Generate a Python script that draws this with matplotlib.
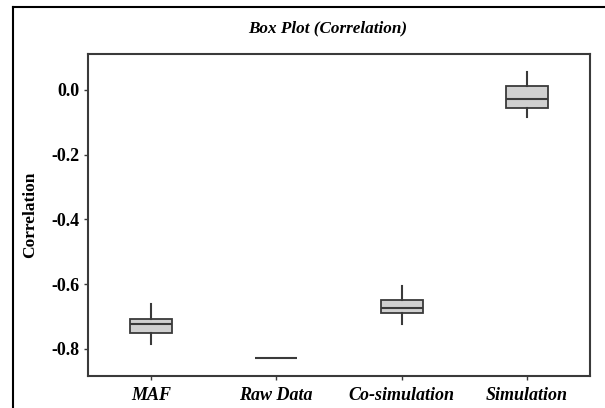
import matplotlib
matplotlib.use("Agg")
import matplotlib.pyplot as plt
from matplotlib.lines import Line2D

plt.rcParams['font.family'] = ['Liberation Serif', 'DejaVu Serif']

categories = ["MAF", "Raw Data", "Co-simulation", "Simulation"]
whisker_low = [-0.785, -0.829, -0.724, -0.083]
quartile_1 = [-0.751, -0.829, -0.690, -0.056]
medians = [-0.722, -0.829, -0.674, -0.028]
quartile_3 = [-0.708, -0.829, -0.649, 0.012]
whisker_high = [-0.662, -0.829, -0.606, 0.056]
y_ticks = [0.0, -0.2, -0.4, -0.6, -0.8]

fig = plt.figure(figsize=(6.05, 4.08), dpi=100)
ax = fig.add_axes([0.1455, 0.0784, 0.8295, 0.7892])

stats = []
for name, lo, q1, med, q3, hi in zip(categories, whisker_low, quartile_1,
                                     medians, quartile_3, whisker_high):
    stats.append(dict(label=name, whislo=lo, q1=q1, med=med, q3=q3,
                      whishi=hi, fliers=[]))

edge = "#3a3a3a"
ax.bxp(stats, positions=range(1, len(categories) + 1), widths=0.335,
       patch_artist=True, showcaps=False,
       boxprops=dict(facecolor="#d0d0d0", edgecolor=edge, linewidth=1.3),
       medianprops=dict(color=edge, linewidth=1.5),
       whiskerprops=dict(color=edge, linewidth=1.5))

ax.set_xlim(0.5, 4.5)
ax.set_ylim(-0.884, 0.111)
ax.set_yticks(y_ticks)
ax.set_yticklabels([f"{v:.1f}" for v in y_ticks], fontsize=13, fontweight="bold")
ax.set_xticks(range(1, len(categories) + 1))
ax.set_xticklabels(categories, fontsize=13, fontweight="bold", fontstyle="italic")
ax.tick_params(axis="both", direction="out", length=3, width=1, color=edge)
ax.tick_params(axis="x", pad=5)
ax.tick_params(axis="y", pad=3)
for s in ax.spines.values():
    s.set_color(edge)
    s.set_linewidth(1.5)

ax.set_ylabel("Correlation", fontsize=12.5, fontweight="bold", labelpad=10)
fig.text(0.542, 0.93, "Box Plot (Correlation)", ha="center", va="center",
         fontsize=12.3, fontweight="bold", fontstyle="italic")

# outer frame (left and top edges)
x0 = 13 / 605
y0 = 1 - 7 / 408
fig.add_artist(Line2D([x0, x0], [0, y0], transform=fig.transFigure,
                      color="black", linewidth=1.5))
fig.add_artist(Line2D([x0, 1], [y0, y0], transform=fig.transFigure,
                      color="black", linewidth=1.5))

fig.savefig("out.png", dpi=100)
